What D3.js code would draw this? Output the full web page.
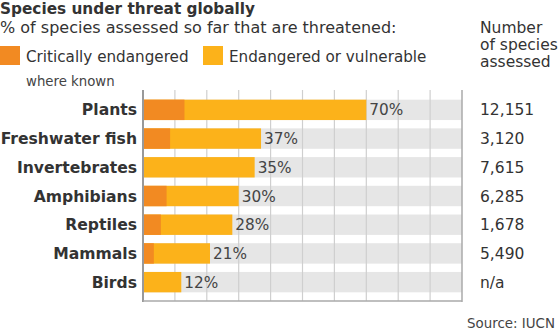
<!DOCTYPE html>
<html>
<head>
<meta charset="utf-8">
<script src="https://cdn.jsdelivr.net/npm/d3@7"></script>
<style>
  body { margin: 0; background: #fff; }
  svg { display: block; font-family: Verdana, "DejaVu Sans", sans-serif; }
</style>
</head>
<body>
<div id="chart"></div>
<script>
// Threat levels by group (% of assessed species)
const categories = ['Plants', 'Freshwater fish', 'Invertebrates', 'Amphibians', 'Reptiles', 'Mammals', 'Birds'];
const threatened = [70, 37, 35, 30, 28, 21, 12];
// critically endangered share, null where not known
const critical = [13, 8.5, null, 7.4, 5.6, 3.4, null];
const assessed = [12151, 3120, 7615, 6285, 1678, 5490, null];
const gridTicks = [10, 20, 30, 40, 50, 60, 70, 80, 90];

const W = 559, H = 334;
const colCritical = '#f28a22';
const colEndangered = '#fcb21a';

const svg = d3.select('#chart').append('svg')
    .attr('width', W)
    .attr('height', H);

const data = categories.map((c, i) => ({
    name: c,
    total: threatened[i],
    crit: critical[i],
    n: assessed[i]
}));

const x = d3.scaleLinear().domain([0, 100]).range([143, 462]);
const y = d3.scaleBand()
    .domain(categories)
    .range([95.5, 296.5])
    .paddingInner(0.29)
    .paddingOuter(0.145);

const plotTop = 90, plotBottom = 301;

// Title and subtitle
svg.append('text')
    .attr('x', 0).attr('y', 14)
    .attr('font-size', 15.3).attr('font-weight', 'bold')
    .attr('fill', '#333')
    .text('Species under threat globally');

svg.append('text')
    .attr('x', 0).attr('y', 33)
    .attr('font-size', 16)
    .attr('fill', '#333')
    .text('% of species assessed so far that are threatened:');

// Legend
const legend = [
    { label: 'Critically endangered', sub: 'where known', color: colCritical, x: 0 },
    { label: 'Endangered or vulnerable', color: colEndangered, x: 203 }
];
legend.forEach(l => {
    svg.append('rect')
        .attr('x', l.x).attr('y', 46)
        .attr('width', 20).attr('height', 19)
        .attr('fill', l.color);
    svg.append('text')
        .attr('x', l.x + 26).attr('y', 62)
        .attr('font-size', 15.2).attr('fill', '#333')
        .text(l.label);
    if (l.sub) {
        svg.append('text')
            .attr('x', l.x + 26).attr('y', 86)
            .attr('font-size', 13.3).attr('fill', '#444')
            .text(l.sub);
    }
});

// Right column heading
['Number', 'of species', 'assessed'].forEach((t, i) => {
    svg.append('text')
        .attr('x', 480).attr('y', 33 + i * 17)
        .attr('font-size', 15.5).attr('fill', '#333')
        .text(t);
});

// Grey background bands
svg.selectAll('.band')
    .data(data)
    .enter().append('rect')
    .attr('class', 'band')
    .attr('x', x(0))
    .attr('y', d => y(d.name))
    .attr('width', x(100) - x(0))
    .attr('height', y.bandwidth())
    .attr('fill', '#e6e6e6');

// Vertical gridlines
svg.selectAll('.grid')
    .data(gridTicks)
    .enter().append('line')
    .attr('class', 'grid')
    .attr('x1', d => x(d)).attr('x2', d => x(d))
    .attr('y1', plotTop).attr('y2', plotBottom)
    .attr('stroke', '#cfcfcf')
    .attr('stroke-width', 1.2);

// Threatened bars (endangered or vulnerable), then critical part on top
svg.selectAll('.bar')
    .data(data)
    .enter().append('rect')
    .attr('class', 'bar')
    .attr('x', x(0))
    .attr('y', d => y(d.name))
    .attr('width', d => x(d.total) - x(0))
    .attr('height', y.bandwidth())
    .attr('fill', colEndangered);

svg.selectAll('.crit')
    .data(data.filter(d => d.crit != null))
    .enter().append('rect')
    .attr('class', 'crit')
    .attr('x', x(0))
    .attr('y', d => y(d.name))
    .attr('width', d => x(d.crit) - x(0))
    .attr('height', y.bandwidth())
    .attr('fill', colCritical);

// Frame: left, right and bottom edges
svg.append('line')
    .attr('x1', x(0)).attr('x2', x(0))
    .attr('y1', plotTop).attr('y2', plotBottom + 1)
    .attr('stroke', '#999').attr('stroke-width', 2);
svg.append('line')
    .attr('x1', x(100)).attr('x2', x(100))
    .attr('y1', plotTop).attr('y2', plotBottom + 1)
    .attr('stroke', '#aaa').attr('stroke-width', 1.5);
svg.append('line')
    .attr('x1', x(0)).attr('x2', x(100))
    .attr('y1', plotBottom).attr('y2', plotBottom)
    .attr('stroke', '#aaa').attr('stroke-width', 1.5);

// Category labels
svg.selectAll('.cat')
    .data(data)
    .enter().append('text')
    .attr('class', 'cat')
    .attr('x', 137)
    .attr('y', d => y(d.name) + y.bandwidth() / 2)
    .attr('dy', '0.36em')
    .attr('text-anchor', 'end')
    .attr('font-size', 15.6).attr('font-weight', 'bold')
    .attr('fill', '#333')
    .text(d => d.name);

// Value labels at bar ends
svg.selectAll('.val')
    .data(data)
    .enter().append('text')
    .attr('class', 'val')
    .attr('x', d => x(d.total) + 3)
    .attr('y', d => y(d.name) + y.bandwidth() / 2)
    .attr('dy', '0.36em')
    .attr('font-size', 15.3).attr('fill', '#444')
    .text(d => d.total + '%');

// Number of species assessed
svg.selectAll('.num')
    .data(data)
    .enter().append('text')
    .attr('class', 'num')
    .attr('x', 480)
    .attr('y', d => y(d.name) + y.bandwidth() / 2)
    .attr('dy', '0.36em')
    .attr('font-size', 15.5).attr('fill', '#333')
    .text(d => d.n == null ? 'n/a' : d3.format(',')(d.n));

svg.append('text')
    .attr('x', 555).attr('y', 328)
    .attr('text-anchor', 'end')
    .attr('font-size', 13.4).attr('fill', '#444')
    .text('Source: IUCN');
</script>
</body>
</html>
